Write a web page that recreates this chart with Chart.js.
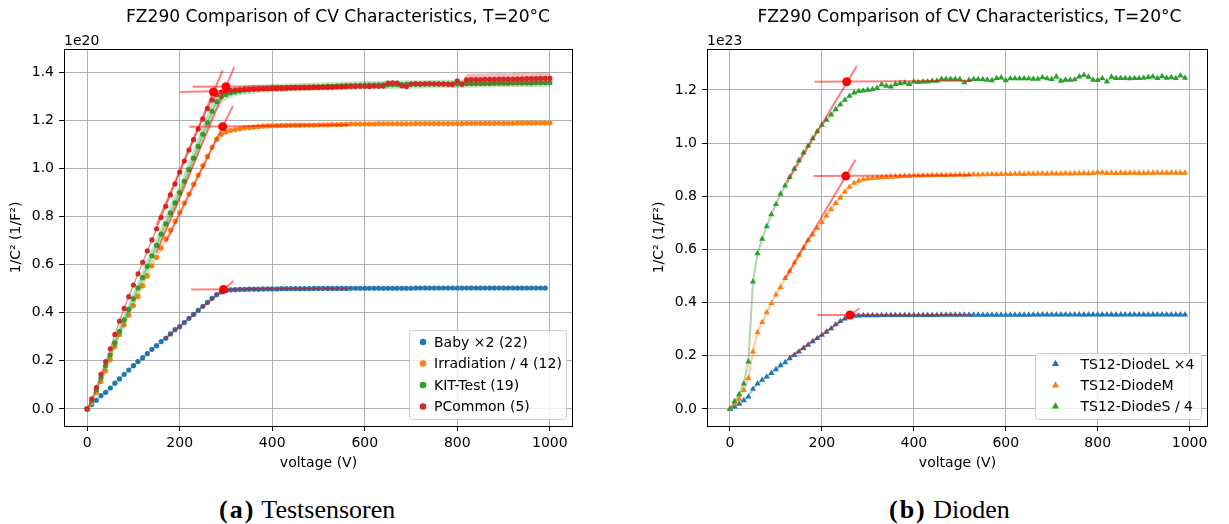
<!DOCTYPE html>
<html>
<head>
<meta charset="utf-8">
<title>FZ290 CV characteristics</title>
<script src="https://cdn.jsdelivr.net/npm/chart.js@4.4.1/dist/chart.umd.min.js"></script>
<style>
  html, body { margin: 0; padding: 0; background: #fff; }
  #page { position: relative; width: 1229px; height: 524px; overflow: hidden; background: #fff; }
  canvas { position: absolute; top: 0; }
  .cap { position: absolute; top: 496px; font-family: "Liberation Serif", serif; font-size: 26px; line-height: 28px; color: #000; white-space: nowrap; }
  .cap b { letter-spacing: 2px; }
</style>
</head>
<body>
<div id="page">
  <canvas id="chartA" width="614" height="480" style="left:0"></canvas>
  <canvas id="chartB" width="615" height="480" style="left:614px"></canvas>
  <div class="cap" style="left:219px"><b>(a)</b> Testsensoren</div>
  <div class="cap" style="left:889px"><b>(b)</b> Dioden</div>
</div>
<script>
// ---------- data ----------
const xTicks = [0, 200, 400, 600, 800, 1000];
const leftYTicks = [0, 0.2, 0.4, 0.6, 0.8, 1.0, 1.2, 1.4];
const rightYTicks = [0, 0.2, 0.4, 0.6, 0.8, 1.0, 1.2];

// (a) Testsensoren, units 1e20
const leftVolts = [0,10,20,30,40,50,60,70,80,90,100,110,120,130,140,150,160,170,180,190,
  200,210,220,230,240,250,260,270,280,290,300,310,320,330,340,350,360,370,380,390,
  400,410,420,430,440,450,460,470,480,490,500,510,520,530,540,550,560,570,580,590,
  600,610,620,630,640,650,660,670,680,690,700,710,720,730,740,750,760,770,780,790,
  800,810,820,830,840,850,860,870,880,890,900,910,920,930,940,950,960,970,980,990,1000];

const baby = [0,0.018,0.036,0.055,0.069,0.087,0.107,0.125,0.144,0.162,
  0.18,0.197,0.213,0.23,0.248,0.263,0.28,0.294,0.312,0.33,
  0.342,0.359,0.377,0.393,0.41,0.427,0.443,0.46,0.475,0.486,
  0.493,0.495,0.496,0.497,0.497,0.498,0.498,0.498,0.499,0.499,
  0.499,0.499,0.5,0.5,0.5,0.5,0.5,0.5,0.5,0.501,
  0.501,0.501,0.501,0.501,0.501,0.501,0.501,0.502,0.502,0.502,
  0.502,0.502,0.502,0.502,0.502,0.502,0.502,0.502,0.502,0.502,
  0.502,0.503,0.503,0.503,0.503,0.503,0.503,0.503,0.503,0.503,
  0.503,0.503,0.503,0.503,0.503,0.503,0.503,0.503,0.503,0.503,
  0.503,0.503,0.503,0.503,0.503,0.503,0.503,0.503,0.503,0.503];

const irradiation = [0,0.026,0.068,0.114,0.158,0.205,0.26,0.31,0.35,0.39,
  0.43,0.468,0.512,0.553,0.595,0.63,0.669,0.707,0.744,0.781,
  0.818,0.856,0.894,0.934,0.973,1.012,1.05,1.088,1.122,1.142,
  1.152,1.158,1.162,1.165,1.168,1.17,1.172,1.174,1.176,1.177,
  1.178,1.178,1.179,1.179,1.18,1.18,1.18,1.181,1.181,1.181,
  1.182,1.182,1.182,1.183,1.183,1.183,1.184,1.185,1.185,1.185,
  1.185,1.185,1.185,1.186,1.186,1.186,1.186,1.186,1.186,1.186,
  1.186,1.187,1.187,1.187,1.187,1.187,1.187,1.187,1.187,1.187,
  1.187,1.187,1.188,1.188,1.188,1.188,1.188,1.188,1.188,1.188,
  1.188,1.188,1.188,1.189,1.189,1.189,1.189,1.189,1.189,1.189,1.189];

const kitTest = [0,0.035,0.08,0.13,0.18,0.224,0.275,0.322,0.37,0.414,
  0.458,0.503,0.546,0.593,0.637,0.68,0.727,0.77,0.815,0.857,
  0.9,0.947,0.995,1.043,1.092,1.142,1.19,1.238,1.278,1.298,
  1.308,1.315,1.319,1.323,1.326,1.328,1.33,1.331,1.332,1.333,
  1.334,1.335,1.335,1.336,1.337,1.337,1.338,1.339,1.339,1.34,
  1.34,1.341,1.342,1.342,1.343,1.344,1.345,1.345,1.346,1.346,
  1.347,1.347,1.347,1.348,1.348,1.348,1.349,1.349,1.349,1.35,
  1.35,1.35,1.35,1.351,1.351,1.351,1.351,1.352,1.352,1.352,
  1.352,1.352,1.353,1.353,1.353,1.354,1.354,1.354,1.355,1.355,
  1.355,1.355,1.356,1.356,1.356,1.356,1.356,1.357,1.357,1.357,1.357];
const kitStd = [0,0.006,0.01,0.014,0.018,0.02,0.022,0.024,0.026,0.027,
  0.028,0.029,0.03,0.031,0.032,0.033,0.034,0.035,0.035,0.036,
  0.036,0.037,0.037,0.038,0.038,0.038,0.038,0.036,0.032,0.027,
  0.023,0.02,0.019,0.018,0.018,0.018,0.018,0.017,0.017,0.017,
  0.017,0.017,0.017,0.017,0.017,0.017,0.017,0.017,0.017,0.017,
  0.017,0.017,0.017,0.017,0.017,0.017,0.017,0.017,0.017,0.017,
  0.017,0.017,0.017,0.017,0.017,0.017,0.017,0.017,0.017,0.017,
  0.017,0.017,0.017,0.017,0.017,0.017,0.017,0.017,0.017,0.017,
  0.017,0.017,0.017,0.017,0.017,0.017,0.017,0.017,0.017,0.017,
  0.017,0.017,0.017,0.017,0.017,0.017,0.017,0.017,0.017,0.017,0.017];

const pCommon = [0,0.042,0.089,0.144,0.197,0.25,0.31,0.365,0.418,0.467,
  0.515,0.562,0.61,0.657,0.703,0.749,0.796,0.843,0.89,0.936,
  0.985,1.031,1.077,1.12,1.164,1.206,1.25,1.285,1.307,1.318,
  1.322,1.325,1.327,1.328,1.329,1.33,1.331,1.331,1.332,1.332,
  1.333,1.333,1.334,1.334,1.335,1.335,1.335,1.336,1.336,1.337,
  1.337,1.338,1.337,1.338,1.339,1.339,1.34,1.341,1.341,1.342,
  1.342,1.341,1.343,1.342,1.343,1.355,1.356,1.355,1.344,1.341,
  1.352,1.353,1.352,1.352,1.353,1.352,1.352,1.351,1.35,1.349,
  1.365,1.35,1.369,1.37,1.37,1.37,1.371,1.371,1.371,1.372,
  1.372,1.372,1.372,1.373,1.373,1.374,1.374,1.374,1.375,1.375,1.375];
const pCommonStd = [0,0.002,0.003,0.003,0.004,0.004,0.004,0.004,0.004,0.004,
  0.004,0.004,0.004,0.004,0.004,0.004,0.004,0.004,0.004,0.004,
  0.004,0.004,0.004,0.004,0.004,0.004,0.004,0.004,0.004,0.004,
  0.004,0.004,0.004,0.004,0.004,0.004,0.004,0.004,0.004,0.004,
  0.004,0.004,0.004,0.004,0.004,0.004,0.004,0.004,0.004,0.004,
  0.004,0.004,0.004,0.004,0.004,0.004,0.004,0.004,0.004,0.004,
  0.004,0.004,0.004,0.004,0.006,0.008,0.008,0.008,0.006,0.006,
  0.005,0.005,0.005,0.005,0.005,0.005,0.005,0.005,0.005,0.006,
  0.01,0.008,0.024,0.025,0.025,0.025,0.024,0.025,0.025,0.026,
  0.025,0.024,0.025,0.025,0.026,0.025,0.024,0.025,0.025,0.024,0.024];

// fit lines of panel (a): Baby, Irradiation, KIT-Test, PCommon
const leftRiseV = [[167, 317], [170, 315], [150, 318], [150, 293]];
const leftRiseY = [[0.29, 0.533], [0.694, 1.26], [0.65, 1.423], [0.765, 1.408]];
const leftFlatV = [[225, 565], [221, 565], [228, 565], [201, 565]];
const leftFlatY = [[0.497, 0.5], [1.174, 1.181], [1.34, 1.345], [1.318, 1.336]];
const leftKneeV = [295, 293, 300, 273];
const leftKneeY = [0.497, 1.174, 1.34, 1.318];

// (b) Dioden, units 1e23
const rightVolts = [0,10,20,30,40,50,60,70,80,90,100,110,120,130,140,150,160,170,180,190,
  200,210,220,230,240,250,260,270,280,290,300,310,320,330,340,350,360,370,380,390,
  400,410,420,430,440,450,460,470,480,490,500,510,520,530,540,550,560,570,580,590,
  600,610,620,630,640,650,660,670,680,690,700,710,720,730,740,750,760,770,780,790,
  800,810,820,830,840,850,860,870,880,890,900,910,920,930,940,950,960,970,980,990];

const diodeL = [0,0.009,0.019,0.0325,0.046,0.075,0.095,0.109,0.121,0.135,
  0.149,0.164,0.175,0.19,0.2025,0.215,0.229,0.241,0.254,0.266,
  0.278,0.29,0.3025,0.3175,0.33,0.34,0.3475,0.35,0.351,0.352,
  0.352,0.352,0.352,0.353,0.353,0.353,0.353,0.353,0.353,0.353,
  0.353,0.353,0.353,0.353,0.353,0.353,0.354,0.354,0.354,0.354,
  0.354,0.354,0.354,0.354,0.354,0.354,0.354,0.354,0.354,0.354,
  0.354,0.354,0.354,0.354,0.354,0.354,0.355,0.355,0.355,0.355,
  0.355,0.355,0.355,0.355,0.355,0.355,0.355,0.355,0.355,0.355,
  0.355,0.355,0.355,0.355,0.355,0.355,0.355,0.355,0.355,0.355,
  0.355,0.355,0.355,0.355,0.355,0.355,0.355,0.355,0.355,0.355];

const diodeM = [0,0.02,0.038,0.071,0.116,0.215,0.288,0.326,0.363,0.398,
  0.43,0.458,0.492,0.519,0.55,0.579,0.606,0.635,0.656,0.68,
  0.703,0.727,0.751,0.774,0.795,0.817,0.835,0.85,0.858,0.863,
  0.866,0.868,0.869,0.871,0.872,0.873,0.874,0.875,0.876,0.876,
  0.878,0.877,0.878,0.878,0.879,0.879,0.88,0.879,0.88,0.88,
  0.881,0.88,0.881,0.882,0.881,0.882,0.882,0.883,0.882,0.883,
  0.884,0.883,0.884,0.884,0.883,0.885,0.884,0.885,0.885,0.884,
  0.886,0.885,0.885,0.886,0.885,0.886,0.886,0.887,0.886,0.887,
  0.89,0.889,0.887,0.888,0.887,0.888,0.887,0.888,0.888,0.888,
  0.887,0.888,0.888,0.889,0.888,0.888,0.889,0.888,0.888,0.888];

const diodeS = [0,0.029,0.055,0.095,0.178,0.479,0.585,0.64,0.687,0.732,
  0.77,0.809,0.84,0.872,0.903,0.935,0.964,0.99,1.018,1.044,
  1.068,1.087,1.107,1.127,1.145,1.162,1.177,1.19,1.195,1.197,
  1.2,1.202,1.207,1.221,1.215,1.212,1.222,1.225,1.227,1.222,
  1.231,1.229,1.231,1.231,1.234,1.234,1.241,1.241,1.241,1.241,
  1.24,1.228,1.237,1.24,1.24,1.239,1.238,1.236,1.244,1.246,
  1.236,1.243,1.243,1.243,1.243,1.243,1.241,1.241,1.247,1.243,
  1.24,1.25,1.234,1.238,1.238,1.239,1.25,1.256,1.249,1.238,
  1.237,1.244,1.231,1.249,1.244,1.244,1.244,1.243,1.244,1.244,
  1.245,1.248,1.25,1.244,1.251,1.245,1.247,1.244,1.254,1.245];

// fit lines of panel (b): DiodeL, DiodeM, DiodeS
const rightRiseV = [[130, 282], [120, 273], [123, 276]];
const rightRiseY = [[0.195, 0.379], [0.49, 0.937], [0.851, 1.29]];
const rightFlatV = [[190, 526], [182, 525], [184, 525]];
const rightFlatY = [[0.3535, 0.3535], [0.876, 0.879], [1.231, 1.235]];
const rightKneeV = [261, 252, 254];
const rightKneeY = [0.3535, 0.876, 1.231];

// ---------- styling helpers ----------
const C_BLUE = '#1f77b4', C_ORANGE = '#ff7f0e', C_GREEN = '#2ca02c', C_RED = '#d62728';
const FIT = 'rgba(255, 0, 0, 0.5)';
const FONT = '"DejaVu Sans", sans-serif';
const TEXT_SIZE = 14;

function rgba(hex, a) {
  const n = parseInt(hex.slice(1), 16);
  return `rgba(${n >> 16}, ${(n >> 8) & 255}, ${n & 255}, ${a})`;
}
const pts = (xs, ys) => ys.map((y, i) => ({ x: xs[i], y: y }));

function series(label, xs, ys, color, style, radius, order, lineW) {
  return {
    label: label, data: pts(xs, ys), inLegend: true,
    borderColor: rgba(color, 0.4), borderWidth: lineW, fill: false,
    pointStyle: style, pointRadius: radius, pointBackgroundColor: color,
    pointBorderWidth: 0, pointBorderColor: color, order: order
  };
}

// mean +- std band, upper dataset fills down to the next one
function band(xs, mean, sd, color, order) {
  const hidden = { borderColor: 'rgba(0,0,0,0)', borderWidth: 0, pointRadius: 0, order: order };
  return [
    Object.assign({ data: pts(xs, mean.map((m, i) => m + sd[i])), fill: '+1', backgroundColor: rgba(color, 0.3) }, hidden),
    Object.assign({ data: pts(xs, mean.map((m, i) => m - sd[i])), fill: false }, hidden)
  ];
}

function fits(riseV, riseY, flatV, flatY, kneeV, kneeY) {
  const out = [];
  const seg = (v, y) => ({
    data: [{ x: v[0], y: y[0] }, { x: v[1], y: y[1] }],
    borderColor: FIT, borderWidth: 2, pointRadius: 0, fill: false, order: 1
  });
  riseV.forEach((v, i) => {
    out.push(seg(v, riseY[i]));
    out.push(seg(flatV[i], flatY[i]));
  });
  out.push({
    data: pts(kneeV, kneeY), showLine: false, pointRadius: 4.5, pointStyle: 'circle',
    pointBackgroundColor: '#ff0000', pointBorderWidth: 0, order: 0
  });
  return out;
}

function scales(xMin, xMax, yMin, yMax, yTicks, yWidth) {
  const tickFont = { family: FONT, size: TEXT_SIZE };
  const grid = { color: '#b0b0b0', lineWidth: 1, tickColor: '#000', tickLength: 5, drawTicks: true };
  return {
    x: {
      type: 'linear', min: xMin, max: xMax,
      afterBuildTicks: s => { s.ticks = xTicks.map(v => ({ value: v })); },
      afterFit: s => { s.height = 54; },
      ticks: { font: tickFont, color: '#000', padding: 4, maxRotation: 0, callback: v => String(v) },
      grid: grid, border: { display: false }
    },
    y: {
      type: 'linear', min: yMin, max: yMax,
      afterBuildTicks: s => { s.ticks = yTicks.map(v => ({ value: v })); },
      afterFit: s => { s.width = yWidth; },
      ticks: { font: tickFont, color: '#000', padding: 5, callback: v => v.toFixed(1) },
      grid: grid, border: { display: false }
    }
  };
}

// spines, titles, offset text and a matplotlib-like legend
const mplDecor = {
  id: 'mplDecor',
  afterDraw(chart, args, o) {
    const ctx = chart.ctx, a = chart.chartArea;
    ctx.save();
    ctx.strokeStyle = '#000';
    ctx.lineWidth = 1;
    ctx.strokeRect(Math.round(a.left) + 0.5, Math.round(a.top) + 0.5,
      Math.round(a.right - a.left) - 1, Math.round(a.bottom - a.top));

    ctx.fillStyle = '#000';
    ctx.textBaseline = 'alphabetic';
    ctx.font = `17.1px ${FONT}`;
    ctx.textAlign = 'center';
    ctx.fillText(o.title, o.titleX, 22);

    ctx.font = `${TEXT_SIZE}px ${FONT}`;
    ctx.textAlign = 'left';
    ctx.fillText(o.offset, a.left, 45);
    ctx.textAlign = 'center';
    ctx.fillText(o.xlabel, (a.left + a.right) / 2, 467);
    ctx.save();
    ctx.translate(o.ylabelX, (a.top + a.bottom) / 2);
    ctx.rotate(-Math.PI / 2);
    ctx.textBaseline = 'middle';
    ctx.fillText(o.ylabel, 0, 0);
    ctx.restore();

    const L = o.legend;
    ctx.fillStyle = 'rgba(255,255,255,0.8)';
    ctx.strokeStyle = '#cccccc';
    ctx.beginPath();
    ctx.roundRect(L.x + 0.5, L.y + 0.5, L.w, L.h, 3);
    ctx.fill();
    ctx.stroke();
    const items = chart.data.datasets.filter(d => d.inLegend);
    items.forEach((d, i) => {
      const y = L.rows[i];
      ctx.fillStyle = d.pointBackgroundColor;
      ctx.beginPath();
      if (d.pointStyle === 'triangle') {
        const r = L.radius;
        ctx.moveTo(L.markerX, y - r);
        ctx.lineTo(L.markerX + r * 0.866, y + r * 0.5);
        ctx.lineTo(L.markerX - r * 0.866, y + r * 0.5);
        ctx.closePath();
      } else {
        ctx.arc(L.markerX, y, L.radius, 0, Math.PI * 2);
      }
      ctx.fill();
      ctx.fillStyle = '#000';
      ctx.textAlign = 'left';
      ctx.textBaseline = 'middle';
      ctx.fillText(d.label, L.textX, y + 1);
    });
    ctx.restore();
  }
};

const TITLE = 'FZ290 Comparison of CV Characteristics, T=20°C';
const YLABEL = '1/C² (1/F²)';
const XLABEL = 'voltage (V)';

function baseOptions(padRight, sc, decor) {
  return {
    responsive: false, animation: false, events: [],
    layout: { padding: { left: 0, right: padRight, top: 49, bottom: 0 } },
    scales: sc,
    plugins: { legend: { display: false }, tooltip: { enabled: false }, title: { display: false }, mplDecor: decor }
  };
}

// ---------- panel (a) ----------
const leftDatasets = [].concat(
  fits(leftRiseV, leftRiseY, leftFlatV, leftFlatY, leftKneeV, leftKneeY),
  [series('Baby ×2 (22)', leftVolts, baby, C_BLUE, 'circle', 2.6, 9, 1.5),
   series('Irradiation / 4 (12)', leftVolts, irradiation, C_ORANGE, 'circle', 2.6, 7, 1.5),
   series('KIT-Test (19)', leftVolts, kitTest, C_GREEN, 'circle', 2.6, 5, 1.5),
   series('PCommon (5)', leftVolts, pCommon, C_RED, 'circle', 2.6, 3, 1.5)],
  band(leftVolts, kitTest, kitStd, C_GREEN, 6),
  band(leftVolts, pCommon, pCommonStd, C_RED, 4)
);

new Chart(document.getElementById('chartA'), {
  type: 'line',
  data: { datasets: leftDatasets },
  options: baseOptions(41, scales(-50, 1050, -0.071, 1.497, leftYTicks, 64), {
    title: TITLE, titleX: 338, offset: '1e20', xlabel: XLABEL, ylabel: YLABEL, ylabelX: 16,
    legend: { x: 409, y: 330, w: 157, h: 89, rows: [342, 363.5, 385, 406.5], markerX: 423, textX: 434, radius: 3.3 }
  }),
  plugins: [mplDecor]
});

// ---------- panel (b) ----------
const rightDatasets = [].concat(
  fits(rightRiseV, rightRiseY, rightFlatV, rightFlatY, rightKneeV, rightKneeY),
  [series('TS12-DiodeL ×4', rightVolts, diodeL, C_BLUE, 'triangle', 3.6, 6, 2),
   series('TS12-DiodeM', rightVolts, diodeM, C_ORANGE, 'triangle', 3.6, 4, 2),
   series('TS12-DiodeS / 4', rightVolts, diodeS, C_GREEN, 'triangle', 3.6, 2, 2)]
);

new Chart(document.getElementById('chartB'), {
  type: 'line',
  data: { datasets: rightDatasets },
  options: baseOptions(21, scales(-50, 1040, -0.064, 1.354, rightYTicks, 93), {
    title: TITLE, titleX: 355.5, offset: '1e23', xlabel: XLABEL, ylabel: YLABEL, ylabelX: 45,
    legend: { x: 421, y: 353, w: 166, h: 66, rows: [364, 385.5, 406.5], markerX: 441.5, textX: 466.5, radius: 4.2 }
  }),
  plugins: [mplDecor]
});
</script>
</body>
</html>
